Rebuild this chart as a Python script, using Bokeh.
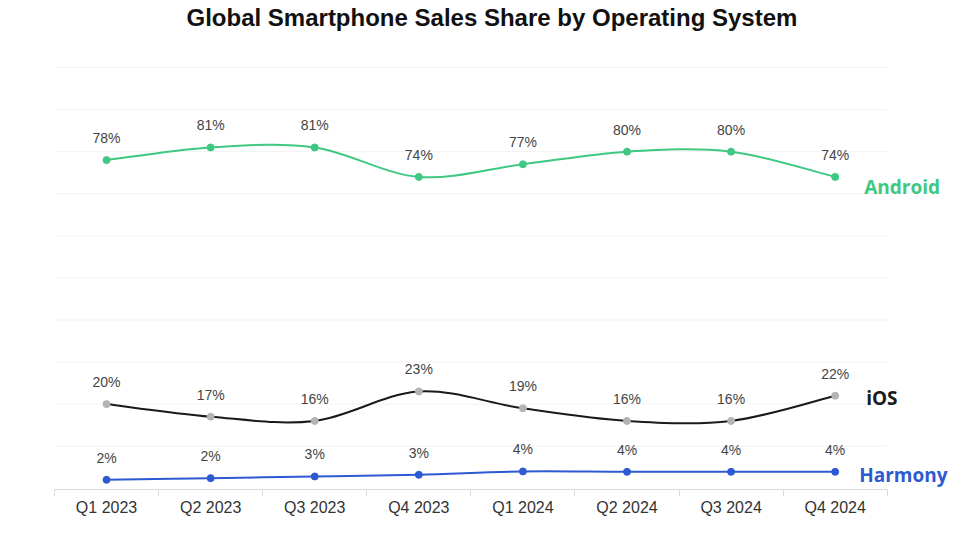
from bokeh.plotting import figure
from bokeh.models import Range1d, FixedTicker, ColumnDataSource
from bokeh.core.properties import value
from bokeh.embed import file_html
from bokeh.resources import INLINE

# ---- data ----
quarters = ["Q1 2023", "Q2 2023", "Q3 2023", "Q4 2023",
            "Q1 2024", "Q2 2024", "Q3 2024", "Q4 2024"]
android = [78, 81, 81, 74, 77, 80, 80, 74]
ios = [20, 17, 16, 23, 19, 16, 16, 22]
harmony = [2.0, 2.4, 2.8, 3.2, 4.0, 3.9, 3.9, 3.9]
series_names = ["Android", "iOS", "Harmony"]
grid_values = [10, 20, 30, 40, 50, 60, 70, 80, 90, 100]

xs = list(range(len(quarters)))

GREEN = "#3ec882"
BLUE = "#2d59d2"
BLACK = "#1a1a1a"
GRAY_PT = "#b3b3b3"
LABEL_COLOR = "#444444"


def smooth_segments(x, y):
    """Catmull-Rom style cubic bezier control points for drawing a smooth path."""
    n = len(x)
    out = dict(x0=[], y0=[], x1=[], y1=[], cx0=[], cy0=[], cx1=[], cy1=[])
    for i in range(n - 1):
        ip = max(i - 1, 0)
        inx = min(i + 2, n - 1)
        out["x0"].append(x[i])
        out["y0"].append(y[i])
        out["x1"].append(x[i + 1])
        out["y1"].append(y[i + 1])
        out["cx0"].append(x[i] + (x[i + 1] - x[ip]) / 6)
        out["cy0"].append(y[i] + (y[i + 1] - y[ip]) / 6)
        out["cx1"].append(x[i + 1] - (x[inx] - x[i]) / 6)
        out["cy1"].append(y[i + 1] - (y[inx] - y[i]) / 6)
    return out


p = figure(width=970, height=550,
           x_range=Range1d(-0.5, 8.3), y_range=Range1d(-0.3, 108.8),
           output_backend="svg", toolbar_location=None,
           y_axis_location=None,
           min_border_left=54, min_border_right=0,
           min_border_top=30, min_border_bottom=61)
p.outline_line_color = None
p.grid.visible = False
p.background_fill_color = "white"
p.border_fill_color = "white"

# title
p.title.text = "Global Smartphone Sales Share by Operating System"
p.title.text_font = "Liberation Sans"
p.title.text_font_size = "24px"
p.title.text_font_style = "bold"
p.title.text_color = "#111111"
p.title.align = "left"
p.title.offset = 132
p.title.standoff = 0

# horizontal gridlines across the category span
p.segment(x0=[xs[0] - 0.5] * len(grid_values), x1=[xs[-1] + 0.5] * len(grid_values),
          y0=grid_values, y1=grid_values, line_color="#f2f2f2", line_width=1)

# x axis
ax = p.xaxis[0]
ax.ticker = FixedTicker(ticks=xs, minor_ticks=[i - 0.5 for i in range(len(xs) + 1)])
ax.major_label_overrides = {i: q for i, q in zip(xs, quarters)}
ax.bounds = (xs[0] - 0.5, xs[-1] + 0.5)
ax.axis_line_color = "#d9d9d9"
ax.major_tick_line_color = None
ax.major_tick_out = 0
ax.major_tick_in = 0
ax.minor_tick_line_color = "#d9d9d9"
ax.minor_tick_out = 7
ax.minor_tick_in = 0
ax.major_label_text_font = "Liberation Sans"
ax.major_label_text_font_size = "16px"
ax.major_label_text_color = "#333333"
ax.major_label_standoff = 2

series = [
    (android, GREEN, GREEN, GREEN, 29, 10),
    (ios, BLACK, GRAY_PT, BLACK, 31, 2),
    (harmony, BLUE, BLUE, BLUE, 24, 3),
]

for (vals, line_c, pt_c, name_c, dx, dy), name in zip(series, series_names):
    seg = ColumnDataSource(smooth_segments(xs, vals))
    p.bezier(x0="x0", y0="y0", x1="x1", y1="y1", cx0="cx0", cy0="cy0",
             cx1="cx1", cy1="cy1", source=seg, line_color=line_c, line_width=2)
    src = ColumnDataSource(dict(x=xs, y=vals, lab=[f"{round(v)}%" for v in vals]))
    p.scatter("x", "y", source=src, size=7, fill_color=pt_c, line_color=pt_c)
    p.text("x", "y", text="lab", source=src, text_align="center",
           text_baseline="middle", y_offset=-22,
           text_font=value("Liberation Sans"), text_font_size="14px",
           text_color=LABEL_COLOR)
    p.text(x=[xs[-1]], y=[vals[-1]], text=[name], x_offset=dx, y_offset=dy,
           text_align="left", text_baseline="middle",
           text_font=value("Open Sans"), text_font_size="19px",
           text_font_style="bold", text_color=name_c)

open("out.html", "w").write(file_html(p, INLINE))
